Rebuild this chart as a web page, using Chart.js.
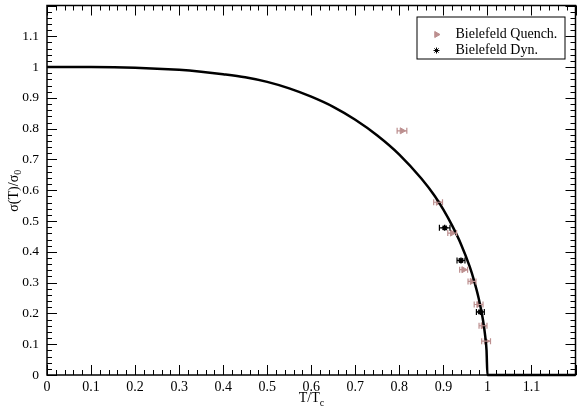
<!DOCTYPE html>
<html>
<head>
<meta charset="utf-8">
<script src="https://cdn.jsdelivr.net/npm/chart.js@4.4.1/dist/chart.umd.min.js"></script>
<style>
  html, body { margin: 0; padding: 0; background: #fff; }
</style>
</head>
<body>
<canvas id="chart" width="581" height="414"></canvas>
<script>
// curve (T/Tc, sigma(T)/sigma0)
const curveT = [0, 0.1, 0.2, 0.3, 0.35, 0.4, 0.45, 0.5, 0.55, 0.6, 0.65, 0.7, 0.75, 0.8, 0.85, 0.88, 0.9, 0.92, 0.94, 0.96, 0.97, 0.98, 0.99, 0.995, 0.998, 1.0, 1.2];
const curveS = [1, 1, 0.998, 0.991, 0.985, 0.977, 0.967, 0.952, 0.931, 0.904, 0.871, 0.829, 0.778, 0.716, 0.638, 0.582, 0.537, 0.485, 0.425, 0.351, 0.305, 0.25, 0.178, 0.126, 0.08, 0, 0];

// Bielefeld quenched points
const quenchT = [0.806, 0.888, 0.920, 0.946, 0.965, 0.980, 0.990, 0.997];
const quenchS = [0.793, 0.561, 0.461, 0.342, 0.304, 0.229, 0.160, 0.110];
const quenchErr = [0.011, 0.010, 0.010, 0.009, 0.009, 0.010, 0.009, 0.010];

// Bielefeld dynamical points
const dynT = [0.903, 0.940, 0.984];
const dynS = [0.478, 0.372, 0.205];
const dynErr = [0.012, 0.009, 0.009];

const legendLabels = ["Bielefeld Quench.", "Bielefeld Dyn."];
const quenchColor = "#bc8f8f";
const fontFamily = "'Liberation Serif', 'DejaVu Serif', serif";

const pts = (xs, ys) => xs.map((x, i) => ({ x: x, y: ys[i] }));
const fmt = v => (Math.abs(v - 1.2) < 1e-6) ? "" : String(Number(v.toFixed(1)));

// horizontal error bars with caps
const errorBars = {
  id: "errorBars",
  afterDatasetsDraw(chart) {
    const c = chart.ctx, xs = chart.scales.x, ys = chart.scales.y;
    const sets = [[quenchT, quenchS, quenchErr, quenchColor], [dynT, dynS, dynErr, "#000"]];
    c.save();
    c.lineWidth = 1.2;
    sets.forEach(([tx, sy, er, col]) => {
      c.strokeStyle = col;
      tx.forEach((t, i) => {
        const x0 = xs.getPixelForValue(t - er[i]);
        const x1 = xs.getPixelForValue(t + er[i]);
        const y = ys.getPixelForValue(sy[i]);
        c.beginPath();
        c.moveTo(x0, y); c.lineTo(x1, y);
        c.moveTo(x0, y - 3); c.lineTo(x0, y + 3);
        c.moveTo(x1, y - 3); c.lineTo(x1, y + 3);
        c.stroke();
      });
    });
    c.restore();
  }
};

// frame, inward ticks on all sides, axis titles, legend box
const frame = {
  id: "frame",
  afterDraw(chart) {
    const c = chart.ctx, a = chart.chartArea, xs = chart.scales.x, ys = chart.scales.y;
    c.save();
    c.strokeStyle = "#000";
    c.lineWidth = 1;
    c.beginPath();
    for (let i = 0; i <= 60; i++) {
      const v = i * 0.02;
      const len = (i % 5 === 0) ? 10 : 5;
      const px = Math.round(xs.getPixelForValue(v)) + 0.5;
      const py = Math.round(ys.getPixelForValue(v)) + 0.5;
      c.moveTo(px, a.bottom); c.lineTo(px, a.bottom - len);
      c.moveTo(px, a.top); c.lineTo(px, a.top + len);
      c.moveTo(a.left, py); c.lineTo(a.left + len, py);
      c.moveTo(a.right, py); c.lineTo(a.right - len, py);
    }
    c.stroke();
    c.lineWidth = 1.5;
    c.strokeRect(a.left, a.top, a.right - a.left, a.bottom - a.top);

    // axis titles
    c.fillStyle = "#000";
    c.textBaseline = "alphabetic";
    c.font = "14px " + fontFamily;
    const xt = "T/T";
    const xw = c.measureText(xt).width;
    const cx = (a.left + a.right) / 2 - 2;
    c.textAlign = "left";
    c.fillText(xt, cx - xw / 2, 402);
    c.font = "10px " + fontFamily;
    c.fillText("c", cx + xw / 2, 406);

    c.translate(18, (a.top + a.bottom) / 2);
    c.rotate(-Math.PI / 2);
    c.font = "14px " + fontFamily;
    const yt = "\u03c3(T)/\u03c3";
    const yw = c.measureText(yt).width;
    c.fillText(yt, -yw / 2 - 3, 0);
    c.font = "10px " + fontFamily;
    c.fillText("0", yw / 2 - 3, 3);
    c.setTransform(1, 0, 0, 1, 0, 0);

    // legend
    const lx = a.right - 159, ly = a.top + 11;
    c.fillStyle = "#fff";
    c.fillRect(lx, ly, 148, 42);
    c.lineWidth = 1;
    c.strokeStyle = "#000";
    c.strokeRect(lx + 0.5, ly + 0.5, 148, 42);
    c.font = "14px " + fontFamily;
    c.fillStyle = "#000";
    c.textBaseline = "middle";
    c.fillText(legendLabels[0], lx + 39, ly + 18);
    c.fillText(legendLabels[1], lx + 39, ly + 34);
    c.fillStyle = quenchColor; c.strokeStyle = quenchColor;
    Chart.helpers.drawPoint(c, { pointStyle: "triangle", rotation: 90, radius: 3.5, borderWidth: 1 }, lx + 20, ly + 18);
    c.fillStyle = "#000"; c.strokeStyle = "#000";
    Chart.helpers.drawPoint(c, { pointStyle: "star", rotation: 0, radius: 3, borderWidth: 1.5 }, lx + 20, ly + 34);
    c.restore();
  }
};

new Chart(document.getElementById("chart"), {
  type: "scatter",
  data: {
    datasets: [
      {
        label: "curve",
        data: pts(curveT, curveS),
        showLine: true,
        borderColor: "#000",
        borderWidth: 2.5,
        pointRadius: 0,
        cubicInterpolationMode: "monotone",
        clip: false
      },
      {
        label: legendLabels[0],
        data: pts(quenchT, quenchS),
        pointStyle: "triangle",
        rotation: 90,
        pointRadius: 3.5,
        backgroundColor: quenchColor,
        borderColor: quenchColor,
        borderWidth: 1
      },
      {
        label: legendLabels[1],
        data: pts(dynT, dynS),
        pointStyle: "star",
        pointRadius: 3,
        backgroundColor: "#000",
        borderColor: "#000",
        borderWidth: 1.5
      }
    ]
  },
  options: {
    responsive: false,
    animation: false,
    layout: { padding: { left: 0, right: 5, top: 4, bottom: 0 } },
    plugins: { legend: { display: false }, tooltip: { enabled: false } },
    scales: {
      x: {
        type: "linear",
        min: 0, max: 1.2,
        grid: { display: false, drawTicks: false },
        border: { display: false },
        ticks: { stepSize: 0.1, autoSkip: false, maxRotation: 0, padding: 4, color: "#000", font: { family: fontFamily, size: 14 }, callback: fmt },
        afterFit: s => { s.height = 39; s.paddingLeft = 0; s.paddingRight = 0; }
      },
      y: {
        type: "linear",
        min: 0, max: 1.2,
        grid: { display: false, drawTicks: false },
        border: { display: false },
        ticks: { stepSize: 0.1, autoSkip: false, padding: 8, color: "#000", font: { family: fontFamily, size: 13.5 }, callback: fmt },
        afterFit: s => { s.width = 47; s.paddingTop = 0; s.paddingBottom = 0; }
      }
    }
  },
  plugins: [errorBars, frame]
});
</script>
</body>
</html>
